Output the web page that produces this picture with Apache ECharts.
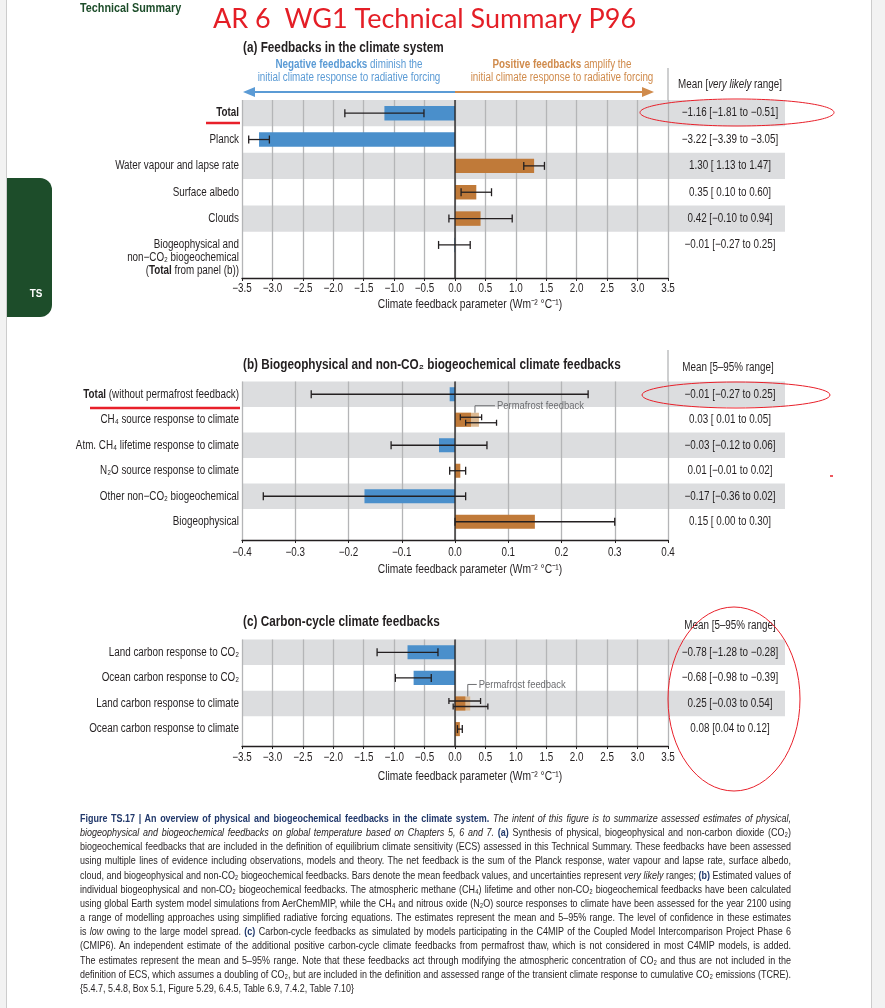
<!DOCTYPE html>
<html>
<head>
<meta charset="utf-8">
<script src="https://cdn.jsdelivr.net/npm/echarts@6/dist/echarts.min.js"></script>
<style>
html,body{margin:0;padding:0;width:885px;height:1008px;overflow:hidden;background:#f2f2f2;}
#page{position:absolute;left:7px;top:0;width:864px;height:1008px;background:#fff;box-shadow:-1px 0 0 #cccccc,1px 0 0 #cccccc;}
#chart{position:absolute;left:0;top:0;width:885px;height:1008px;}
#caption{position:absolute;left:80px;top:811px;width:711px;font-family:'Liberation Sans',Arial,sans-serif;font-size:11.5px;line-height:14.17px;color:#231f20;}
#caption div{white-space:nowrap;height:14.17px;transform-origin:0 0;}
#caption span{display:inline-block;white-space:nowrap;}
#caption b{color:#21386b;}
</style>
</head>
<body>
<div id="page"></div>
<div id="chart"></div>
<div id="caption">
<div><b>Figure TS.17 | An overview of physical and biogeochemical feedbacks in the climate system.</b> <i>The intent of this figure is to summarize assessed estimates of physical,</i></div>
<div><i>biogeophysical and biogeochemical feedbacks on global temperature based on Chapters 5, 6 and 7.</i> <b>(a)</b> Synthesis of physical, biogeophysical and non-carbon dioxide (CO₂)</div>
<div>biogeochemical feedbacks that are included in the definition of equilibrium climate sensitivity (ECS) assessed in this Technical Summary. These feedbacks have been assessed</div>
<div>using multiple lines of evidence including observations, models and theory. The net feedback is the sum of the Planck response, water vapour and lapse rate, surface albedo,</div>
<div>cloud, and biogeophysical and non-CO₂ biogeochemical feedbacks. Bars denote the mean feedback values, and uncertainties represent <i>very likely</i> ranges; <b>(b)</b> Estimated values of</div>
<div>individual biogeophysical and non-CO₂ biogeochemical feedbacks. The atmospheric methane (CH₄) lifetime and other non-CO₂ biogeochemical feedbacks have been calculated</div>
<div>using global Earth system model simulations from AerChemMIP, while the CH₄ and nitrous oxide (N₂O) source responses to climate have been assessed for the year 2100 using</div>
<div>a range of modelling approaches using simplified radiative forcing equations. The estimates represent the mean and 5–95% range. The level of confidence in these estimates</div>
<div>is <i>low</i> owing to the large model spread. <b>(c)</b> Carbon-cycle feedbacks as simulated by models participating in the C4MIP of the Coupled Model Intercomparison Project Phase 6</div>
<div>(CMIP6). An independent estimate of the additional positive carbon-cycle climate feedbacks from permafrost thaw, which is not considered in most C4MIP models, is added.</div>
<div>The estimates represent the mean and 5–95% range. Note that these feedbacks act through modifying the atmospheric concentration of CO₂ and thus are not included in the</div>
<div>definition of ECS, which assumes a doubling of CO₂, but are included in the definition and assessed range of the transient climate response to cumulative CO₂ emissions (TCRE).</div>
<div class="last">{5.4.7, 5.4.8, Box 5.1, Figure 5.29, 6.4.5, Table 6.9, 7.4.2, Table 7.10}</div>
</div>
<script>
// ---------------- data ----------------
// (a) Feedbacks in the climate system
const catsA = ['{b|Total}', 'Planck', 'Water vapour and lapse rate', 'Surface albedo', 'Clouds',
  'Biogeophysical and\nnon−CO₂ biogeochemical\n({b|Total} from panel (b))'];
const meanA = [-1.16, -3.22, 1.30, 0.35, 0.42, -0.01];
const lowA  = [-1.81, -3.39, 1.13, 0.10, -0.10, -0.27];
const highA = [-0.51, -3.05, 1.47, 0.60, 0.94, 0.25];
const textA = ['−1.16 [−1.81 to −0.51]', '−3.22 [−3.39 to −3.05]', '1.30 [ 1.13 to 1.47]',
  '0.35 [ 0.10 to 0.60]', '0.42 [−0.10 to 0.94]', '−0.01 [−0.27 to 0.25]'];
const shadedA = [0, 2, 4];
const ticksA = [-3.5, -3.0, -2.5, -2.0, -1.5, -1.0, -0.5, 0.0, 0.5, 1.0, 1.5, 2.0, 2.5, 3.0, 3.5];

// (b) Biogeophysical and non-CO2 biogeochemical climate feedbacks
const catsB = ['{b|Total} (without permafrost feedback)', 'CH₄ source response to climate',
  'Atm. CH₄ lifetime response to climate', 'N₂O source response to climate',
  'Other non−CO₂ biogeochemical', 'Biogeophysical'];
const meanB = [-0.01, 0.03, -0.03, 0.01, -0.17, 0.15];
const lowB  = [-0.27, 0.01, -0.12, -0.01, -0.36, 0.00];
const highB = [0.25, 0.05, 0.06, 0.02, 0.02, 0.30];
const pfRowB = [1];
const pfMeanB = [0.045];
const pfLowB = [0.02];
const pfHighB = [0.078];
const textB = ['−0.01 [−0.27 to 0.25]', '0.03 [ 0.01 to 0.05]', '−0.03 [−0.12 to 0.06]',
  '0.01 [−0.01 to 0.02]', '−0.17 [−0.36 to 0.02]', '0.15 [ 0.00 to 0.30]'];
const shadedB = [0, 2, 4];
const ticksB = [-0.4, -0.3, -0.2, -0.1, 0.0, 0.1, 0.2, 0.3, 0.4];

// (c) Carbon-cycle climate feedbacks
const catsC = ['Land carbon response to CO₂', 'Ocean carbon response to CO₂',
  'Land carbon response to climate', 'Ocean carbon response to climate'];
const meanC = [-0.78, -0.68, 0.17, 0.08];
const lowC  = [-1.28, -0.98, -0.10, 0.04];
const highC = [-0.28, -0.39, 0.42, 0.12];
const pfRowC = [2];
const pfMeanC = [0.25];
const pfLowC = [-0.03];
const pfHighC = [0.54];
const textC = ['−0.78 [−1.28 to −0.28]', '−0.68 [−0.98 to −0.39]', '0.25 [−0.03 to 0.54]', '0.08 [0.04 to 0.12]'];
const shadedC = [0, 2];
const ticksC = [-3.5, -3.0, -2.5, -2.0, -1.5, -1.0, -0.5, 0.0, 0.5, 1.0, 1.5, 2.0, 2.5, 3.0, 3.5];

const headerA = 'Mean [{i|very likely} range]';
const headerB = 'Mean [5–95% range]';
const headerC = 'Mean [5–95% range]';
const axisTitle = 'Climate feedback parameter (Wm⁻² °C⁻¹)';

// ---------------- caption justification (layout only) ----------------
(function () {
  const TARGET = 711, S = 0.78;
  const rows = document.querySelectorAll('#caption > div');
  rows.forEach((d, k) => {
    const span = document.createElement('span');
    while (d.firstChild) span.appendChild(d.firstChild);
    d.appendChild(span);
    const w = span.getBoundingClientRect().width;
    const last = k === rows.length - 1;
    const s = Math.min(S, TARGET / w);
    d.style.transform = 'scaleX(' + s + ')';
    if (!last) {
      const spaces = (span.textContent.match(/ /g) || []).length;
      const extra = (TARGET / s - w) / Math.max(1, spaces);
      span.style.wordSpacing = extra.toFixed(3) + 'px';
    }
  });
})();

// ---------------- style ----------------
const FONT = "'Liberation Sans',Arial,sans-serif";
const SX = 0.82; // condensed look
const BLUE = '#4a8fcb', ORANGE = '#c07a39', PFC = '#dcb992', BAND = '#dcdddf',
      GRIDC = '#b4b5b7', INK = '#231f20', RED = '#e8202a', GREEN = '#1d4d2a';
const BAND_EXT = 117, VAL_OFF = 62;

const panels = [
  {cats: catsA, mean: meanA, low: lowA, high: highA, shaded: shadedA, texts: textA, ticks: ticksA,
   pfRow: [], pfMean: [], pfLow: [], pfHigh: [],
   min: -3.5, max: 3.5, interval: 0.5, top: 100, height: 178, ymax: 6.255,
   pfLabelGap: 0, pfRise: 0, tickOff: 10.5, titleOff: 27},
  {cats: catsB, mean: meanB, low: lowB, high: highB, shaded: shadedB, texts: textB, ticks: ticksB,
   pfRow: pfRowB, pfMean: pfMeanB, pfLow: pfLowB, pfHigh: pfHighB,
   min: -0.4, max: 0.4, interval: 0.1, top: 381.5, height: 158.5, ymax: 5.716,
   pfLabelGap: 20, pfRise: 7, tickOff: 12.5, titleOff: 30},
  {cats: catsC, mean: meanC, low: lowC, high: highC, shaded: shadedC, texts: textC, ticks: ticksC,
   pfRow: pfRowC, pfMean: pfMeanC, pfLow: pfLowC, pfHigh: pfHighC,
   min: -3.5, max: 3.5, interval: 0.5, top: 639.5, height: 106.5, ymax: 3.66,
   pfLabelGap: 9, pfRise: 12, tickOff: 12, titleOff: 30.5}
];

function fmt(v) {
  if (Math.abs(v) < 1e-9) return '0.0';
  return (v < 0 ? '−' : '') + Math.abs(v).toFixed(1);
}

const grids = [], xAxes = [], yAxes = [], series = [];
const richLabel = {
  b: {fontFamily: FONT, fontSize: 12, fontWeight: 'bold', fill: INK, color: INK, lineHeight: 13}
};

panels.forEach((P, gi) => {
  grids.push({left: 242, width: 426, top: P.top, height: P.height, outerBoundsMode: 'none', containLabel: false});
  xAxes.push({
    type: 'value', gridIndex: gi, min: P.min, max: P.max, interval: P.interval,
    axisLine: {show: true, onZero: false, lineStyle: {color: INK, width: 1.3}},
    axisTick: {show: true, inside: false, length: 3, lineStyle: {color: INK, width: 1}},
    splitLine: {show: true, lineStyle: {color: GRIDC, width: 1.3}},
    axisLabel: {show: false}
  });
  yAxes.push({
    type: 'value', gridIndex: gi, inverse: true, min: -0.5, max: P.ymax,
    axisLine: {show: false, onZero: false}, axisTick: {show: false},
    axisLabel: {show: false}, splitLine: {show: false}
  });
  const pfSet = new Set(P.pfRow);

  // shaded row bands (extend under the value column)
  series.push({
    type: 'custom', xAxisIndex: gi, yAxisIndex: gi, z: -1, silent: true, clip: false,
    data: P.shaded.map(i => [0, i]), encode: {x: 0, y: 1},
    renderItem: (p, api) => {
      const cs = p.coordSys, i = api.value(1);
      const y0 = api.coord([0, i - 0.5])[1], y1 = api.coord([0, i + 0.5])[1];
      return {type: 'rect', shape: {x: cs.x, y: y0, width: cs.width + BAND_EXT, height: y1 - y0},
              style: {fill: BAND}};
    }
  });
  // permafrost (light) bars
  if (P.pfRow.length) series.push({
    type: 'custom', xAxisIndex: gi, yAxisIndex: gi, z: 2, silent: true, clip: false,
    data: P.pfRow.map((r, k) => [P.pfMean[k], r]), encode: {x: 0, y: 1},
    renderItem: (p, api) => {
      const m = api.value(0), i = api.value(1);
      const a = api.coord([0, i]), b = api.coord([m, i]);
      const h = api.size([0, 1])[1] * 0.55;
      return {type: 'rect', shape: {x: Math.min(a[0], b[0]), y: a[1] - h / 2, width: Math.abs(b[0] - a[0]), height: h},
              style: {fill: PFC}};
    }
  });
  // mean bars
  series.push({
    type: 'custom', xAxisIndex: gi, yAxisIndex: gi, z: 3, silent: true, clip: false,
    data: P.mean.map((m, i) => [m, i]), encode: {x: 0, y: 1},
    renderItem: (p, api) => {
      const m = api.value(0), i = api.value(1);
      const a = api.coord([0, i]), b = api.coord([m, i]);
      const h = api.size([0, 1])[1] * 0.55;
      return {type: 'rect', shape: {x: Math.min(a[0], b[0]), y: a[1] - h / 2, width: Math.abs(b[0] - a[0]), height: h},
              style: {fill: m < 0 ? BLUE : ORANGE}};
    }
  });
  // zero line
  series.push({
    type: 'custom', xAxisIndex: gi, yAxisIndex: gi, z: 4, silent: true, clip: false,
    data: [[0, 0]], encode: {x: 0, y: 1},
    renderItem: (p, api) => {
      const cs = p.coordSys, x = api.coord([0, 0])[0];
      return {type: 'line', shape: {x1: x, y1: cs.y, x2: x, y2: cs.y + cs.height},
              style: {stroke: INK, lineWidth: 1.3}};
    }
  });
  // error bars
  const errRender = (isPf) => (p, api) => {
    const lo = api.value(0), hi = api.value(1), i = api.value(2);
    const a = api.coord([lo, i]), b = api.coord([hi, i]);
    let y = a[1], cap = 4;
    if (isPf) { y += 3; cap = 3; } else if (pfSet.has(i)) { y -= 2.5; cap = 3; }
    const st = {stroke: INK, lineWidth: 1.3};
    return {type: 'group', children: [
      {type: 'line', shape: {x1: a[0], y1: y, x2: b[0], y2: y}, style: st},
      {type: 'line', shape: {x1: a[0], y1: y - cap, x2: a[0], y2: y + cap}, style: st},
      {type: 'line', shape: {x1: b[0], y1: y - cap, x2: b[0], y2: y + cap}, style: st}
    ]};
  };
  series.push({
    type: 'custom', xAxisIndex: gi, yAxisIndex: gi, z: 5, silent: true, clip: false,
    data: P.low.map((l, i) => [l, P.high[i], i]), encode: {x: [0, 1], y: 2},
    renderItem: errRender(false)
  });
  if (P.pfRow.length) {
    series.push({
      type: 'custom', xAxisIndex: gi, yAxisIndex: gi, z: 5, silent: true, clip: false,
      data: P.pfRow.map((r, k) => [P.pfLow[k], P.pfHigh[k], r]), encode: {x: [0, 1], y: 2},
      renderItem: errRender(true)
    });
    // permafrost leader + label
    series.push({
      type: 'custom', xAxisIndex: gi, yAxisIndex: gi, z: 6, silent: true, clip: false,
      data: P.pfRow.map((r, k) => [(P.mean[r] + P.pfMean[k]) / 2, r]), encode: {x: 0, y: 1},
      renderItem: (p, api) => {
        const c = api.coord([api.value(0), api.value(1)]);
        const h = api.size([0, 1])[1] * 0.55;
        const yTop = c[1] - h / 2, yL = yTop - P.pfRise, xE = c[0] + P.pfLabelGap;
        const st = {stroke: '#6d6e71', lineWidth: 1};
        return {type: 'group', children: [
          {type: 'polyline', shape: {points: [[c[0], yTop], [c[0], yL], [xE, yL]]}, style: Object.assign({fill: null}, st)},
          {type: 'text', x: xE + 2, y: yL, scaleX: SX, style: {text: 'Permafrost feedback', fontFamily: FONT, fontSize: 11.5,
            fill: '#6d6e71', align: 'left', verticalAlign: 'middle'}}
        ]};
      }
    });
  }
  // category labels (left)
  series.push({
    type: 'custom', xAxisIndex: gi, yAxisIndex: gi, z: 6, silent: true, clip: false,
    data: P.cats.map((c, i) => [0, i]), encode: {x: 0, y: 1},
    renderItem: (p, api) => {
      const cs = p.coordSys, i = api.value(1), y = api.coord([0, i])[1];
      const txt = P.cats[p.dataIndex];
      const multi = txt.indexOf('\n') >= 0;
      return {type: 'text', x: cs.x - 3, y: multi ? y - 6.5 : y, scaleX: SX,
        style: {text: txt, fontFamily: FONT, fontSize: 12, fill: INK, align: 'right',
                verticalAlign: multi ? 'top' : 'middle', lineHeight: 13, rich: richLabel}};
    }
  });
  // values column (right)
  series.push({
    type: 'custom', xAxisIndex: gi, yAxisIndex: gi, z: 6, silent: true, clip: false,
    data: P.texts.map((t, i) => [0, i]), encode: {x: 0, y: 1},
    renderItem: (p, api) => {
      const cs = p.coordSys, y = api.coord([0, api.value(1)])[1];
      return {type: 'text', x: cs.x + cs.width + VAL_OFF, y: y, scaleX: SX,
        style: {text: P.texts[p.dataIndex], fontFamily: FONT, fontSize: 12, fill: INK,
                align: 'center', verticalAlign: 'middle'}};
    }
  });
  // x tick labels
  series.push({
    type: 'custom', xAxisIndex: gi, yAxisIndex: gi, z: 6, silent: true, clip: false,
    data: P.ticks.map(t => [t, P.ymax]), encode: {x: 0, y: 1},
    renderItem: (p, api) => {
      const c = api.coord([api.value(0), api.value(1)]);
      return {type: 'text', x: c[0], y: c[1] + P.tickOff, scaleX: SX,
        style: {text: fmt(api.value(0)), fontFamily: FONT, fontSize: 12, fill: INK,
                align: 'center', verticalAlign: 'middle'}};
    }
  });
  // x axis title
  series.push({
    type: 'custom', xAxisIndex: gi, yAxisIndex: gi, z: 6, silent: true, clip: false,
    data: [[0, P.ymax]], encode: {x: 0, y: 1},
    renderItem: (p, api) => {
      const cs = p.coordSys;
      return {type: 'text', x: cs.x + cs.width / 2 + 15, y: cs.y + cs.height + P.titleOff, scaleX: SX,
        style: {text: axisTitle, fontFamily: FONT, fontSize: 12.5, fill: INK,
                align: 'center', verticalAlign: 'middle'}};
    }
  });
});

function txt(x, y, text, o, sx) {
  return {type: 'text', x: x, y: y, silent: true, z: 10, scaleX: sx === undefined ? SX : sx,
    style: Object.assign({text: text, fontFamily: FONT, fontSize: 12, fill: INK, align: 'left', verticalAlign: 'middle'}, o || {})};
}
function line(x1, y1, x2, y2, color, w) {
  return {type: 'line', silent: true, z: 10, shape: {x1, y1, x2, y2}, style: {stroke: color, lineWidth: w}};
}
const NEGC = '#5b9bd5', POSC = '#d08b4c';

const graphic = [
  // side tab
  {type: 'rect', silent: true, z: 10, shape: {x: 7, y: 178, width: 45, height: 139, r: [0, 12, 12, 0]}, style: {fill: GREEN}},
  txt(36, 294, 'TS', {fontSize: 11, fontWeight: 'bold', fill: '#ffffff', align: 'center'}, 0.9),
  txt(80, 9, 'Technical Summary', {fontSize: 12, fontWeight: 'bold', fill: GREEN}, 0.9),
  txt(213, 19, 'AR 6  WG1 Technical Summary P96', {fontSize: 27, fill: '#e41e26', fontFamily: "Lato,'Open Sans',sans-serif"}, 1),
  // panel titles
  txt(243, 48, '(a) Feedbacks in the climate system', {fontSize: 14, fontWeight: 'bold'}, 0.84),
  txt(243, 365, '(b) Biogeophysical and non-CO₂ biogeochemical climate feedbacks', {fontSize: 14, fontWeight: 'bold'}, 0.84),
  txt(243, 622, '(c) Carbon-cycle climate feedbacks', {fontSize: 14, fontWeight: 'bold'}, 0.84),
  // direction notes
  txt(349, 71, '{b|Negative feedbacks} diminish the\ninitial climate response to radiative forcing',
    {fontSize: 12, fill: NEGC, align: 'center', lineHeight: 13,
     rich: {b: {fontFamily: FONT, fontSize: 12, fontWeight: 'bold', fill: NEGC, color: NEGC, lineHeight: 13}}}),
  txt(562, 71, '{b|Positive feedbacks} amplify the\ninitial climate response to radiative forcing',
    {fontSize: 12, fill: POSC, align: 'center', lineHeight: 13,
     rich: {b: {fontFamily: FONT, fontSize: 12, fontWeight: 'bold', fill: POSC, color: POSC, lineHeight: 13}}}),
  line(252, 92, 455, 92, NEGC, 2),
  {type: 'polygon', silent: true, z: 10, shape: {points: [[243, 92], [255, 87], [255, 97]]}, style: {fill: NEGC}},
  line(455, 92, 644, 92, POSC, 2),
  {type: 'polygon', silent: true, z: 10, shape: {points: [[654, 92], [642, 87], [642, 97]]}, style: {fill: POSC}},
  // value column headers
  txt(730, 85, headerA, {fontSize: 12, align: 'center',
    rich: {i: {fontFamily: FONT, fontSize: 12, fontStyle: 'italic', fill: INK, color: INK}}}),
  txt(728, 368, headerB, {fontSize: 12, align: 'center'}),
  txt(730, 626, headerC, {fontSize: 12, align: 'center'}),
  // separator extensions
  line(668, 68, 668, 100, GRIDC, 1.3),
  line(668, 350, 668, 381.5, GRIDC, 1.3),
  // red annotations
  line(206, 123, 240, 123, RED, 2.5),
  line(90, 408, 240, 408, RED, 2.5),
  {type: 'ellipse', silent: true, z: 11, shape: {cx: 737, cy: 112.5, rx: 97, ry: 13.5}, style: {fill: null, stroke: RED, lineWidth: 1}},
  {type: 'ellipse', silent: true, z: 11, shape: {cx: 736, cy: 395, rx: 94, ry: 13}, style: {fill: null, stroke: RED, lineWidth: 1}},
  {type: 'ellipse', silent: true, z: 11, shape: {cx: 734, cy: 699, rx: 66, ry: 92}, style: {fill: null, stroke: RED, lineWidth: 1}},
  line(830, 476, 833, 476, RED, 1.5)
];

const chart = echarts.init(document.getElementById('chart'), null, {renderer: 'canvas'});
chart.setOption({
  backgroundColor: 'transparent',
  animation: false,
  grid: grids, xAxis: xAxes, yAxis: yAxes, series: series, graphic: graphic
});
</script>
</body>
</html>
